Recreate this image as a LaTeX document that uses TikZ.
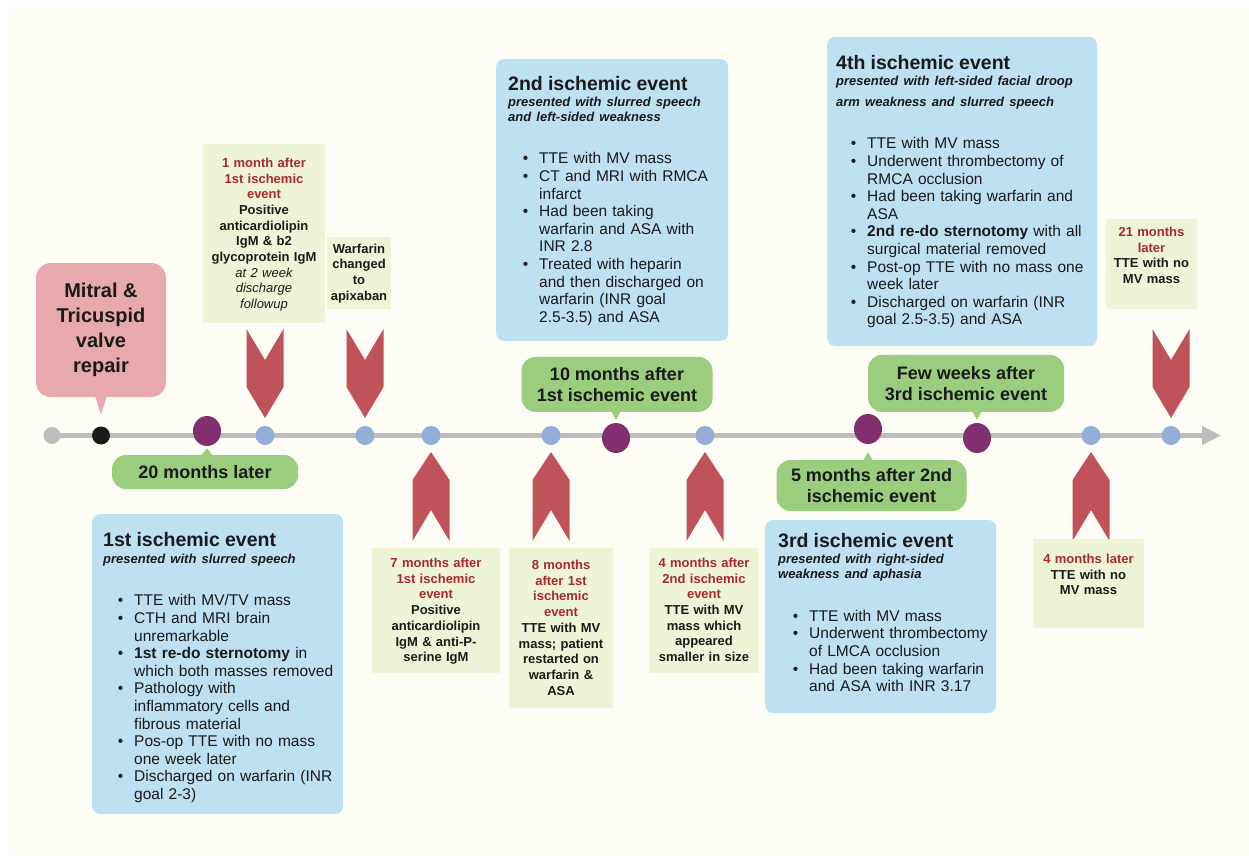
\documentclass[tikz,border=0pt]{standalone}
\usepackage{fontspec}
\setmainfont{Liberation Sans}
\usepackage{enumitem}
\usetikzlibrary{shapes.geometric,arrows.meta,calc}

\definecolor{cream}{RGB}{253,253,246}
\definecolor{evblue}{RGB}{190,224,243}
\definecolor{notegreen}{RGB}{238,245,215}
\definecolor{bubgreen}{RGB}{154,205,126}
\definecolor{repairpink}{RGB}{232,169,172}
\definecolor{chevred}{RGB}{192,82,90}
\definecolor{notered}{RGB}{168,40,45}
\definecolor{eventpurple}{RGB}{129,47,110}
\definecolor{visitblue}{RGB}{147,175,216}
\definecolor{linegray}{RGB}{189,189,189}
\definecolor{inkblack}{RGB}{26,26,26}

% title + italic subtitle of an event box
\newlength{\evpad}
\newcommand{\evhead}[3][11pt]{\raggedright\setlength{\evpad}{#1}\leftskip=\evpad\relax
  {\fontsize{19.5}{22}\selectfont\bfseries #2\par}\vspace{1.5pt}%
  {\fontsize{13}{14.8}\selectfont\bfseries\itshape #3\par}\vspace{25.2pt}\leftskip=0pt\relax}
\newlist{evlist}{itemize}{1}
\setlist[evlist]{label=\textbullet, leftmargin=\dimexpr\evpad+31pt\relax, labelsep=11pt,
  itemsep=0pt, topsep=0pt, parsep=0pt, partopsep=0pt}

\begin{document}
\begin{tikzpicture}[x=1pt,y=-1pt,
    evbox/.style={fill=evblue, rounded corners=8pt, inner sep=0pt, anchor=base west,
      text=inkblack, font=\fontsize{15.5}{17.6}\selectfont},
    notebox/.style={fill=notegreen, inner xsep=2pt, inner ysep=0pt, anchor=base,
      align=center, text=inkblack, font=\fontsize{13}{15.7}\selectfont\bfseries},
    bubble/.style={fill=bubgreen, rounded corners=14pt, inner sep=0pt, align=center,
      text=inkblack, font=\fontsize{18}{21.5}\selectfont\bfseries},
    ischemic/.style={ellipse, fill=eventpurple, minimum width=28pt, minimum height=30pt, inner sep=0pt},
    visit/.style={circle, fill=visitblue, minimum size=19pt, inner sep=0pt},
    timeline/.style={draw=linegray, line width=4.5pt, -{Triangle[length=19pt,width=18pt]}},
    dnchev/.pic={\fill[chevred] (-18.5,-106.5) -- (0,-75.5) -- (18.5,-106.5)
      -- (18.5,-48.5) -- (0,-17.5) -- (-18.5,-48.5) -- cycle;},
    upchev/.pic={\fill[chevred] (-18.5,105.5) -- (0,74.5) -- (18.5,105.5)
      -- (18.5,44.5) -- (0,16.5) -- (-18.5,44.5) -- cycle;}]
        %--- Arguments ----
        \def \liney {435.5} % height of the time line
        %--- Background ---
        \fill[white] (0,0) rectangle (1249,860);
        \fill[cream] (8,7) rectangle (1249,855);
        \useasboundingbox (0,0) rectangle (1249,860);
        %--- Time line ---
        \coordinate (t0) at (52,\liney);
        \coordinate (t1) at (1221,\liney);
        \draw[timeline] (t0) -- (t1);
        \node[circle, fill=linegray, minimum size=17pt, inner sep=0pt] (d0) at (t0) {};
        \node[circle, fill=inkblack, minimum size=18pt, inner sep=0pt] (d1) at (101,\liney) {};
        \node[ischemic] (d2) at (207,431) {};
        \node[visit] (d3) at (265,\liney) {};
        \node[visit] (d4) at (365,\liney) {};
        \node[visit] (d5) at (431,\liney) {};
        \node[visit] (d6) at (551,\liney) {};
        \node[ischemic] (d7) at (616,438) {};
        \node[visit] (d8) at (705,\liney) {};
        \node[ischemic] (d9) at (868,429) {};
        \node[ischemic] (d10) at (977,438) {};
        \node[visit] (d11) at (1091,\liney) {};
        \node[visit] (d12) at (1171,\liney) {};
        %--- Chevrons ---
        \pic at (d3) {dnchev};
        \pic at (d4) {dnchev};
        \pic at (d12) {dnchev};
        \pic at (d5) {upchev};
        \pic at (d6) {upchev};
        \pic at (d8) {upchev};
        \pic at (d11) {upchev};
        %--- Valve repair ---
        \node[fill=repairpink, rounded corners=15pt, minimum width=130pt, minimum height=134pt,
          inner sep=0pt, align=center, text=inkblack, font=\fontsize{20}{24.8}\selectfont\bfseries]
          (mv) at (101,330) {Mitral \&\\Tricuspid\\valve\\repair};
        \fill[repairpink] ($(d1 |- mv.south)+(-6,-1)$) -- ($(d1 |- mv.south)+(6,-1)$)
          -- ($(d1.north)+(0,-12)$) -- cycle;
        %--- Bubbles ---
        \node[bubble, minimum width=186pt, minimum height=34pt] (b20) at (205,472) {20 months later};
        \node[bubble, minimum width=191pt, minimum height=55pt] (b10) at (617,384.4)
          {10 months after\\1st ischemic event};
        \node[bubble, minimum width=196pt, minimum height=57pt] (bfew) at (966,383.4)
          {Few weeks after\\3rd ischemic event};
        \node[bubble, minimum width=190pt, minimum height=51pt] (b5) at (871.5,485.5)
          {5 months after 2nd\\ischemic event};
        \fill[bubgreen] ($(d2 |- b20.north)+(-6,1)$) -- ($(d2 |- b20.north)+(6,1)$)
          -- ($(d2.south)+(0,2)$) -- cycle;
        \fill[bubgreen] ($(d7 |- b10.south)+(-5,-1)$) -- ($(d7 |- b10.south)+(5,-1)$)
          -- ($(d7.north)+(0,-3)$) -- cycle;
        \fill[bubgreen] ($(d10 |- bfew.south)+(-5,-1)$) -- ($(d10 |- bfew.south)+(5,-1)$)
          -- ($(d10.north)+(0,-3)$) -- cycle;
        \fill[bubgreen] ($(d9 |- b5.north)+(-5,1)$) -- ($(d9 |- b5.north)+(5,1)$)
          -- ($(d9.south)+(0,8)$) -- cycle;
        %--- Notes ---
        \node[notebox, text width=118pt, text height=23.3pt, text depth=155.7pt] (n1) at (264,167.3)
          {{\color{notered}1 month after\\1st ischemic\\event}\\Positive\\anticardiolipin\\IgM \& b2\\glycoprotein IgM\\{\mdseries\itshape at 2 week\\discharge\\followup}};
        \node[notebox, text width=60pt, text height=16pt, text depth=56pt] (n2) at (359,253)
          {Warfarin\\changed\\to\\apixaban};
        \node[notebox, text width=124pt, text height=19.8pt, text depth=105.5pt] (n3) at (436,567.5)
          {{\color{notered}7 months after\\1st ischemic\\event}\\Positive\\anticardiolipin\\IgM \& anti-P-\\serine IgM};
        \node[notebox, text width=100pt, text height=21.5pt, text depth=138.5pt] (n4) at (561,569.5)
          {{\color{notered}8 months\\after 1st\\ischemic\\event}\\TTE with MV\\mass; patient\\restarted on\\warfarin \&\\ASA};
        \node[notebox, text width=106pt, text height=19.3pt, text depth=105.4pt] (n5) at (704,567.3)
          {{\color{notered}4 months after\\2nd ischemic\\event}\\TTE with MV\\mass which\\appeared\\smaller in size};
        \node[notebox, text width=107pt, text height=24.5pt, text depth=64.5pt] (n6) at (1088.5,563.5)
          {{\color{notered}4 months later}\\TTE with no\\MV mass};
        \node[notebox, text width=87pt, text height=17.5pt, text depth=72.5pt] (n7) at (1151.5,236.5)
          {{\color{notered}21 months\\later}\\TTE with no\\MV mass};
        %--- Events ---
        % 1st ischemic event
        \node[evbox, text width=251pt, text height=32.7pt, text depth=267.3pt] (e1) at (92,546.7) {%
          \evhead[11pt]{1st ischemic event}{presented with slurred speech}
          \begin{evlist}
            \item TTE with MV/TV mass
            \item CTH and MRI brain\\unremarkable
            \item \textbf{1st re-do sternotomy} in\\which both masses removed
            \item Pathology with\\inflammatory cells and\\fibrous material
            \item Pos-op TTE with no mass\\one week later
            \item Discharged on warfarin (INR\\goal 2-3)
          \end{evlist}};
        % 2nd ischemic event
        \node[evbox, text width=232pt, text height=31pt, text depth=251pt] (e2) at (496,90) {%
          \evhead[12pt]{2nd ischemic event}{presented with slurred speech\\and left-sided weakness}
          \begin{evlist}
            \item TTE with MV mass
            \item CT and MRI with RMCA\\infarct
            \item Had been taking\\warfarin and ASA with\\INR 2.8
            \item Treated with heparin\\and then discharged on\\warfarin (INR goal\\2.5-3.5) and ASA
          \end{evlist}};
        % 3rd ischemic event
        \node[evbox, text width=231pt, text height=27.3pt, text depth=165.7pt] (e3) at (765,547.3) {%
          \evhead[13pt]{3rd ischemic event}{presented with right-sided\\weakness and aphasia}
          \begin{evlist}
            \item TTE with MV mass
            \item Underwent thrombectomy\\of LMCA occlusion
            \item Had been taking warfarin\\and ASA with INR 3.17
          \end{evlist}};
        % 4th ischemic event
        \node[evbox, text width=270pt, text height=32pt, text depth=277pt] (e4) at (827,69) {%
          \evhead[9pt]{4th ischemic event}{presented with left-sided facial droop\\[5.9pt]arm weakness and slurred speech}
          \begin{evlist}
            \item TTE with MV mass
            \item Underwent thrombectomy of\\RMCA occlusion
            \item Had been taking warfarin and\\ASA
            \item \textbf{2nd re-do sternotomy} with all\\surgical material removed
            \item Post-op TTE with no mass one\\week later
            \item Discharged on warfarin (INR\\goal 2.5-3.5) and ASA
          \end{evlist}};
\end{tikzpicture}
\end{document}
